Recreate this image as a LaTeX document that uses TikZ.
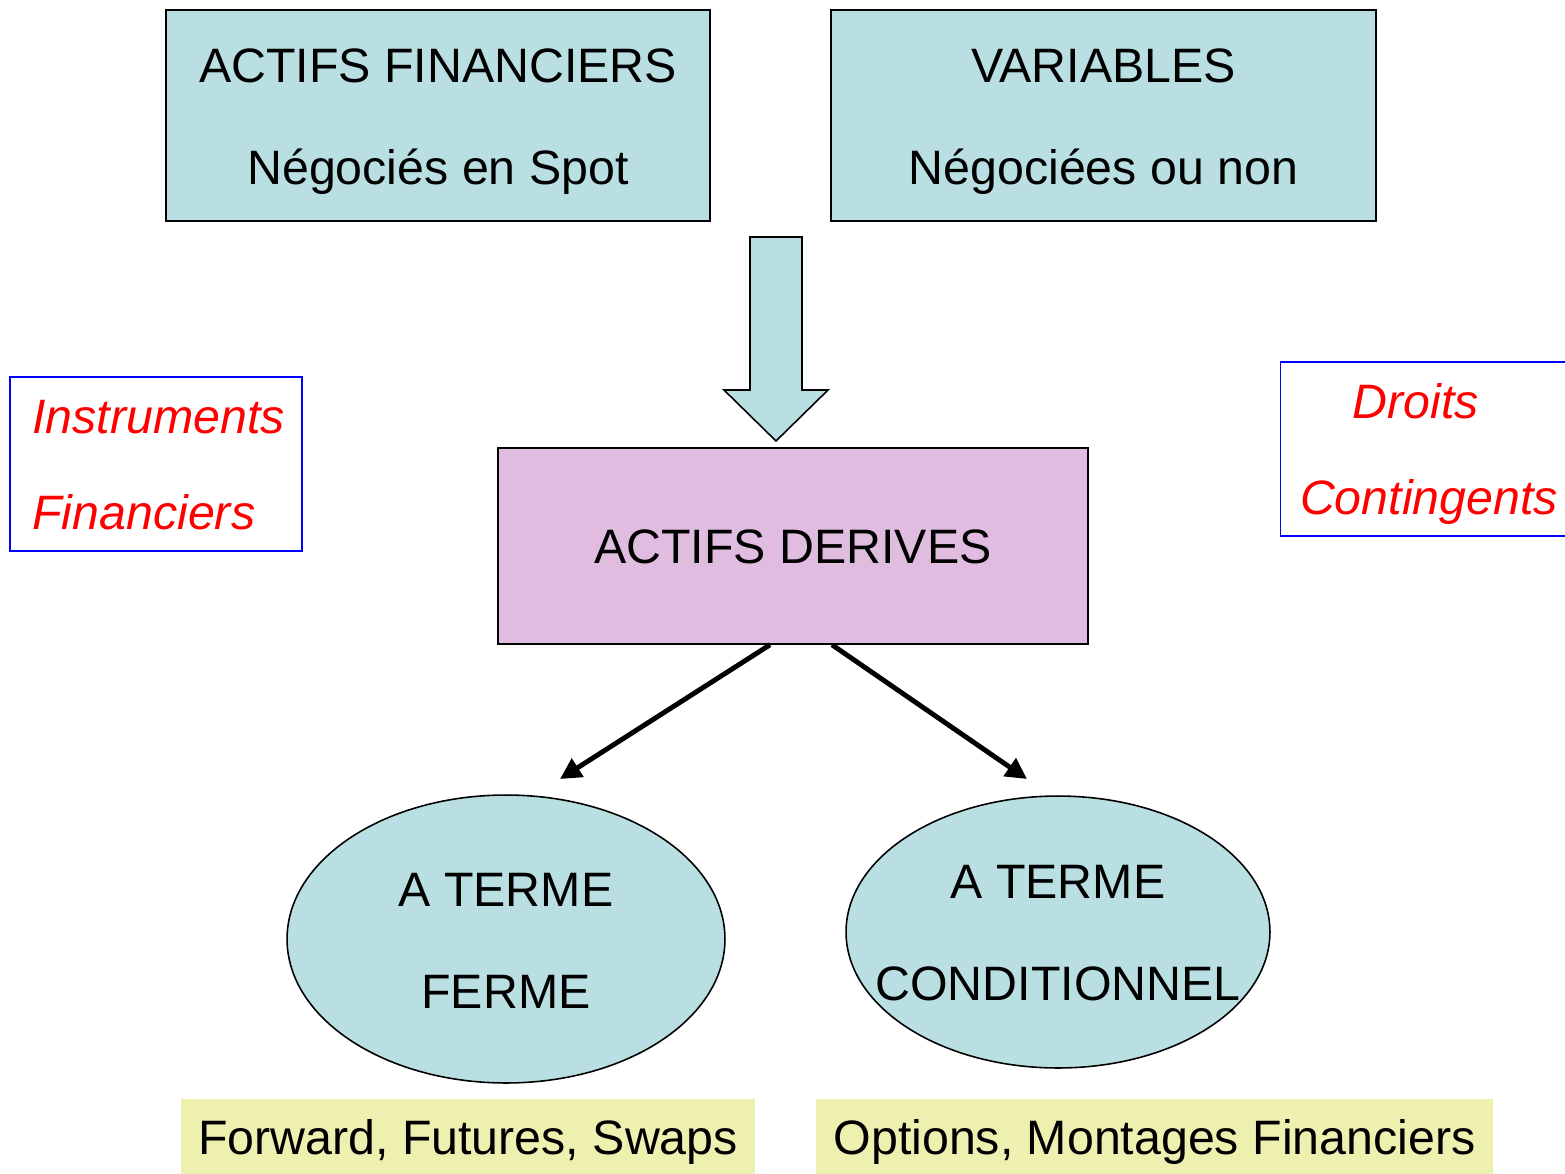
\documentclass[tikz,border=0pt]{standalone}
\usepackage{fontspec}
\setmainfont{Liberation Sans}
\usetikzlibrary{shapes.geometric,arrows.meta,calc}
\definecolor{lblue}{RGB}{185,223,226}
\definecolor{lpurple}{RGB}{224,188,224}
\definecolor{lyellow}{RGB}{238,240,176}
\definecolor{rred}{RGB}{255,0,0}
\definecolor{bblue}{RGB}{0,0,255}
\tikzset{
  txt/.style={font=\fontsize{27.5}{30}\selectfont, inner sep=0pt, anchor=base},
  redtext/.style={txt, text=rred, font=\fontsize{27.5}{30}\selectfont\itshape},
  bluebox/.style={draw=black, line width=0.9pt, fill=lblue, inner sep=0pt},
  purplebox/.style={draw=black, line width=0.9pt, fill=lpurple, inner sep=0pt},
  oval/.style={ellipse, draw=black, line width=0.9pt, fill=lblue, inner sep=0pt},
  yellowbox/.style={fill=lyellow, inner sep=0pt},
  frame/.style={draw=bblue, line width=0.9pt, inner sep=0pt},
  link/.style={line width=2.8pt, -{Triangle[length=12pt,width=12pt]}},
}
\begin{document}
\begin{tikzpicture}[x=0.02cm,y=-0.02cm]
\useasboundingbox (0,0) rectangle (1565,1173);
% top boxes
\node[bluebox, minimum width=10.88cm, minimum height=4.22cm] (af) at (438,115.5) {};
\node[txt] (af1) at (438,82) {ACTIFS FINANCIERS};
\node[txt] (af2) at (438,184) {Négociés en Spot};
\node[bluebox, minimum width=10.9cm, minimum height=4.22cm] (var) at (1103.5,115.5) {};
\node[txt] (var1) at (1103.5,82) {VARIABLES};
\node[txt] (var2) at (1103.5,184) {Négociées ou non};
% block arrow
\draw[line width=0.9pt, fill=lblue] (750,237) -- (802,237) -- (802,390) -- (828,390) -- (776,441) -- (724,390) -- (750,390) -- cycle;
% derived
\node[purplebox, minimum width=11.8cm, minimum height=3.92cm] (der) at (793,546) {};
\node[txt] (der1) at (793,563) {ACTIFS DERIVES};
% side boxes
\node[frame, minimum width=5.84cm, minimum height=3.48cm] (lbox) at (156,464) {};
\node[redtext, anchor=base west] (instr) at (32,433) {Instruments};
\node[redtext, anchor=base west] (fin) at (32,529) {Financiers};
\node[frame, minimum width=5.9cm, minimum height=3.48cm] (rbox) at (1428,449) {};
\node[redtext] (droits) at (1416,418) {Droits};
\node[redtext] (cont) at (1429,514) {Contingents};
% ellipses
\node[oval, minimum width=8.76cm, minimum height=5.76cm] (ferme) at (506,939) {};
\node[txt] (fe1) at (506,906) {A TERME};
\node[txt] (fe2) at (506,1008) {FERME};
\node[oval, minimum width=8.48cm, minimum height=5.44cm] (cond) at (1058,932) {};
\node[txt] (co1) at (1058,898) {A TERME};
\node[txt] (co2) at (1058,1000) {CONDITIONNEL};
% bottom labels
\node[yellowbox, minimum width=11.48cm, minimum height=1.6cm] (fw) at (468,1139) {};
\node[txt] (fw1) at (468,1154) {Forward, Futures, Swaps};
\node[yellowbox, minimum width=13.54cm, minimum height=1.6cm] (opt) at (1154.5,1139) {};
\node[txt] (opt1) at (1154.5,1154) {Options, Montages Financiers};
% connectors
\coordinate (s1) at ($(der.south)+(-23,0)$);
\coordinate (s2) at ($(der.south)+(39,0)$);
\coordinate (e1) at (560,779);
\coordinate (e2) at (1027,779);
\draw[link] (s1) -- (e1);
\draw[link] (s2) -- (e2);
\end{tikzpicture}
\end{document}
